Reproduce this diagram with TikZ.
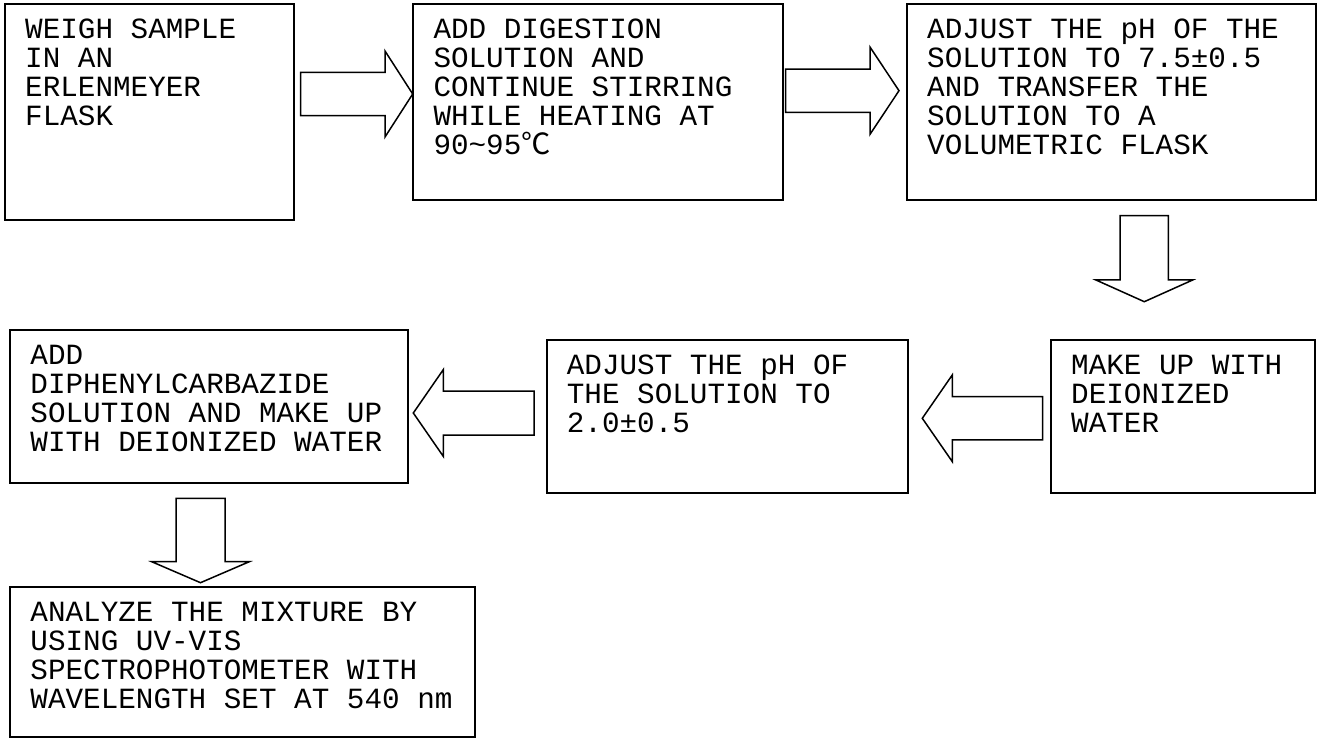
\documentclass[tikz,border=0pt]{standalone}
\usepackage{fontspec}
\setmainfont{Liberation Mono}
\newfontfamily\cjkfont{Noto Sans CJK SC}
\usetikzlibrary{calc}
\tikzset{
  box/.style={draw, line width=2pt, rectangle, inner sep=0pt, anchor=north west},
  txt/.style={anchor=north west, inner sep=0pt, align=left, font=\fontsize{29.3}{29}\selectfont},
  blk/.style={draw, line width=1.5pt, fill=white, line join=miter},
}
% horizontal block arrow: tail x, centre y, head-base x, tip x, shaft half width, head half width
\newcommand\harrow[6]{\draw[blk] (#1,#2-#5) -- (#3,#2-#5) -- (#3,#2-#6) -- (#4,#2) -- (#3,#2+#6) -- (#3,#2+#5) -- (#1,#2+#5) -- cycle;}
% vertical block arrow: centre x, tail y, head-base y, tip y, shaft half width, head half width
\newcommand\varrow[6]{\draw[blk] (#1-#5,#2) -- (#1-#5,#3) -- (#1-#6,#3) -- (#1,#4) -- (#1+#6,#3) -- (#1+#5,#3) -- (#1+#5,#2) -- cycle;}
\newcommand\fl{\rule{0pt}{22pt}}
\begin{document}
\begin{tikzpicture}[x=1pt,y=-1pt]
\fill[white] (0,0) rectangle (1318,738);
\useasboundingbox (0,0) rectangle (1318,738);

% boxes
\node[box, minimum width=289pt, minimum height=216pt] (b1) at (4,3) {};
\node[box, minimum width=369.4pt, minimum height=196pt] (b2) at (412.3,3) {};
\node[box, minimum width=409pt, minimum height=196pt] (b3) at (906,3) {};
\node[box, minimum width=264pt, minimum height=152.7pt] (b4) at (1050,339) {};
\node[box, minimum width=361pt, minimum height=152.7pt] (b5) at (545.7,339) {};
\node[box, minimum width=397.4pt, minimum height=152.7pt] (b6) at (9.3,329) {};
\node[box, minimum width=464.7pt, minimum height=149.8pt] (b7) at (9.3,585.7) {};

% texts
\node[txt] (t1) at ($(b1.north west)+(21,13.5)$) {\fl WEIGH SAMPLE\\IN AN\\ERLENMEYER\\FLASK};
\node[txt] (t2) at ($(b2.north west)+(21,13.5)$) {\fl ADD DIGESTION\\SOLUTION AND\\CONTINUE STIRRING\\WHILE HEATING AT\\90\textasciitilde 95{\cjkfont ℃}};
\node[txt] (t3) at ($(b3.north west)+(21,13.5)$) {\fl ADJUST THE pH OF THE\\SOLUTION TO 7.5±0.5\\AND TRANSFER THE\\SOLUTION TO A\\VOLUMETRIC FLASK};
\node[txt] (t4) at ($(b4.north west)+(21,13.5)$) {\fl MAKE UP WITH\\DEIONIZED\\WATER};
\node[txt] (t5) at ($(b5.north west)+(21,13.5)$) {\fl ADJUST THE pH OF\\THE SOLUTION TO\\2.0±0.5};
\node[txt] (t6) at ($(b6.north west)+(21,13.5)$) {\fl ADD\\DIPHENYLCARBAZIDE\\SOLUTION AND MAKE UP\\WITH DEIONIZED WATER};
\node[txt] (t7) at ($(b7.north west)+(21,13.5)$) {\fl ANALYZE THE MIXTURE BY\\USING UV-VIS\\SPECTROPHOTOMETER WITH\\WAVELENGTH SET AT 540 nm};

% block arrows
\harrow{300.7}{94}{385}{412.7}{21.65}{43}
\harrow{785.7}{90.7}{870}{899}{21.65}{43.65}
\varrow{1144.3}{215.7}{280}{301.7}{24.15}{48.35}
\harrow{1042.7}{418.3}{952.3}{922.3}{21.65}{43.35}
\harrow{534}{413}{443.3}{413.3}{22}{43.35}
\varrow{200.5}{498.3}{561.7}{582.7}{24.5}{48.8}
\end{tikzpicture}
\end{document}
